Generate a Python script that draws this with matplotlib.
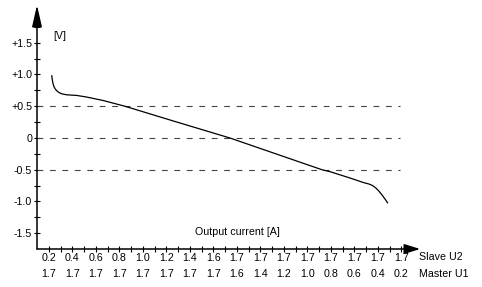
import matplotlib
matplotlib.use('Agg')
import matplotlib.pyplot as plt
import matplotlib.transforms as mtransforms

plt.rcParams['font.family'] = ['Liberation Sans', 'DejaVu Sans']
plt.rcParams['font.size'] = 7.7

# x positions are tick slots 0..15 along the shared current axis
SLAVE_U2 = ['0.2', '0.4', '0.6', '0.8', '1.0', '1.2', '1.4', '1.6',
            '1.7', '1.7', '1.7', '1.7', '1.7', '1.7', '1.7', '1.7']
MASTER_U1 = ['1.7', '1.7', '1.7', '1.7', '1.7', '1.7', '1.7', '1.7',
             '1.6', '1.4', '1.2', '1.0', '0.8', '0.6', '0.4', '0.2']

CURVE_X = [0.12, 0.14, 0.17, 0.21, 0.27, 0.34, 0.43, 0.55, 0.75, 1.18,
           1.60, 2.31, 3.23, 5.36, 7.70, 9.66, 11.62, 11.96, 12.81, 13.37,
           13.62, 13.78, 13.92, 14.05, 14.18, 14.30, 14.41]
CURVE_V = [0.98, 0.92, 0.86, 0.81, 0.77, 0.74, 0.715, 0.695, 0.68, 0.67,
           0.645, 0.59, 0.50, 0.26, 0.0, -0.25, -0.50, -0.53, -0.63, -0.70,
           -0.725, -0.75, -0.79, -0.84, -0.90, -0.96, -1.02]

REF_LEVELS = [0.5, 0.0, -0.5]
Y_TICKS = [1.5, 1.0, 0.5, 0.0, -0.5, -1.0, -1.5]
Y_LABELS = ['+1.5', '+1.0', '+0.5', '0', '-0.5', '-1.0', '-1.5']
Y_MINOR = [1.75, 1.25, 0.75, 0.25, -0.25, -0.75, -1.25]

W, H = 482, 287
fig = plt.figure(figsize=(W / 100, H / 100), dpi=100)
ax = fig.add_axes([37 / W, 38 / H, (W - 37) / W, 244 / H])
ax.set_xlim(-0.51, 18.43)
ax.set_ylim(-1.748, 2.094)
for s in ax.spines.values():
    s.set_visible(False)

# axes with arrow heads
ax.annotate('', xy=(0.861, 0), xytext=(0, 0), xycoords='axes fraction',
            annotation_clip=False,
            arrowprops=dict(arrowstyle='-|>,head_length=0.8,head_width=0.25',
                            mutation_scale=12, lw=1.1, color='black',
                            shrinkA=0, shrinkB=0))
ax.annotate('', xy=(0, 1.0), xytext=(0, 0), xycoords='axes fraction',
            annotation_clip=False,
            arrowprops=dict(arrowstyle='-|>,head_length=1.1,head_width=0.25',
                            mutation_scale=12, lw=1.1, color='black',
                            shrinkA=0, shrinkB=0))

ax.hlines(REF_LEVELS, -0.51, 14.94, colors='#444444', linewidth=0.8,
          linestyles=(0, (5.2, 6.0)))
ax.plot(CURVE_X, CURVE_V, color='black', linewidth=0.9)

ax.set_xticks(range(len(SLAVE_U2)))
ax.set_xticks([i + 0.5 for i in range(len(SLAVE_U2) - 1)], minor=True)
ax.set_xticklabels([])
ax.set_yticks(Y_TICKS)
ax.set_yticklabels(Y_LABELS)
ax.set_yticks(Y_MINOR, minor=True)
ax.tick_params(which='both', direction='inout', length=4, width=0.8, pad=1.5)

row1 = mtransforms.offset_copy(ax.get_xaxis_transform(), fig=fig, y=-9, units='dots')
row2 = mtransforms.offset_copy(ax.get_xaxis_transform(), fig=fig, y=-25, units='dots')
for i, (s, m) in enumerate(zip(SLAVE_U2, MASTER_U1)):
    ax.text(i, 0, s, transform=row1, ha='center', va='center')
    ax.text(i, 0, m, transform=row2, ha='center', va='center')

fig.text(53 / W, 1 - 36 / H, '[V]', ha='left', va='center')
fig.text(195 / W, 1 - 232 / H, 'Output current [A]', ha='left', va='center')
fig.text(419 / W, 1 - 257 / H, 'Slave U2', ha='left', va='center')
fig.text(419 / W, 1 - 274 / H, 'Master U1', ha='left', va='center')

fig.savefig('out.png', dpi=100)
